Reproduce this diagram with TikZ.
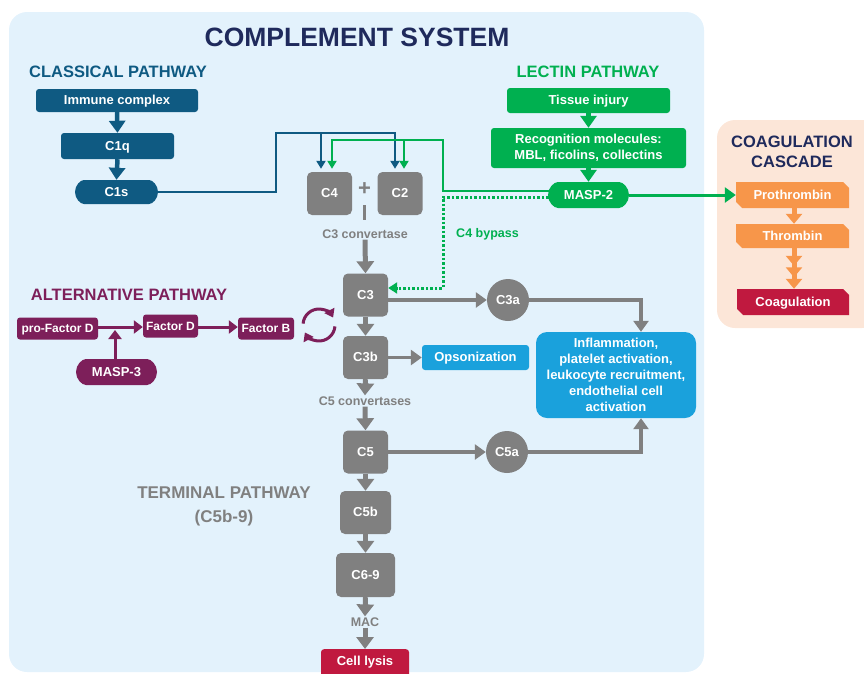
\documentclass[tikz,border=0pt]{standalone}
\usepackage{fontspec}
\setmainfont{Liberation Sans}
\usetikzlibrary{arrows.meta,shapes.misc}
\definecolor{cpblue}{HTML}{0F5A82}
\definecolor{lgreen}{HTML}{00B050}
\definecolor{apurple}{HTML}{7D1F5A}
\definecolor{ggray}{HTML}{808080}
\definecolor{lblue}{HTML}{1AA1DC}
\definecolor{crimson}{HTML}{C0193F}
\definecolor{orng}{HTML}{F7964A}
\definecolor{navy}{HTML}{1F2A5C}
\definecolor{bgblue}{HTML}{E3F2FC}
\definecolor{peach}{HTML}{FCE6D8}
\tikzset{
  bx/.style={rectangle, rounded corners=3pt, inner sep=0pt, text=white,
    font=\bfseries\fontsize{13}{15.8}\selectfont, align=center},
  sl/.style={text height=9.4pt, text depth=0.6pt},
  pill/.style={bx, sl, rounded rectangle},
  gbox/.style={bx, sl, fill=ggray, rounded corners=5pt, minimum width=45pt, minimum height=43pt},
  gcirc/.style={circle, sl, fill=ggray, inner sep=0pt, minimum size=42pt, text=white,
    font=\bfseries\fontsize{13}{15}\selectfont},
  cham/.style={chamfered rectangle, sl, chamfered rectangle corners={north east,south west},
    chamfered rectangle xsep=3pt, chamfered rectangle ysep=3pt, inner sep=0pt, text=white,
    font=\bfseries\fontsize{13}{15}\selectfont},
  hdr/.style={font=\bfseries\fontsize{16.5}{19}\selectfont, inner sep=0pt},
  glab/.style={text=ggray, font=\bfseries\fontsize{12.5}{15}\selectfont, inner sep=1pt},
  vtarr/.style={line width=4.5pt, -{Triangle[length=12pt,width=16pt]}},
  bigarr/.style={line width=5pt, -{Triangle[length=12pt,width=17pt]}},
  medarr/.style={line width=3.5pt, -{Triangle[length=11pt,width=15pt]}},
  thinarr/.style={line width=2.5pt, -{Triangle[length=8pt,width=9pt]}},
  parr/.style={apurple, line width=3pt, -{Triangle[length=9pt,width=13pt]}},
  pbox/.style={bx, sl, fill=apurple, font=\bfseries\fontsize{12}{14}\selectfont},
}
\begin{document}
\begin{tikzpicture}[x=1pt,y=-1pt]
\useasboundingbox (0,0) rectangle (864,673);
\clip (0,0) rectangle (864,673);
% panels
\fill[bgblue, rounded corners=18pt] (9,12) rectangle (704,672);
\fill[peach, rounded corners=18pt] (717,120) rectangle (880,328);
% title
\node[font=\bfseries\fontsize{26.5}{30}\selectfont, text=navy, inner sep=0pt] (title) at (357,37) {COMPLEMENT SYSTEM};
% classical
\node[hdr, text=cpblue] (clh) at (118,72) {CLASSICAL PATHWAY};
\node[bx, sl, fill=cpblue, minimum width=162pt, minimum height=23pt] (imm) at (117,100.5) {Immune complex};
\node[bx, sl, fill=cpblue, minimum width=113pt, minimum height=26pt] (c1q) at (117.5,146) {C1q};
\node[pill, fill=cpblue, minimum width=83pt, minimum height=24pt] (c1s) at (116.5,192) {C1s};
\draw[cpblue, vtarr] (imm.south) -- (c1q.north);
\draw[cpblue, vtarr] (c1q.south) -- (c1s.north);
% lectin
\node[hdr, text=lgreen] (leh) at (588,72) {LECTIN PATHWAY};
\node[bx, sl, fill=lgreen, minimum width=163pt, minimum height=25pt] (tis) at (588.5,100.5) {Tissue injury};
\node[bx, fill=lgreen, minimum width=195pt, minimum height=40pt] (rec) at (588.5,148) {Recognition molecules:\\MBL, ficolins, collectins};
\node[pill, fill=lgreen, minimum width=81pt, minimum height=26pt] (masp2) at (588.5,195) {MASP-2};
\draw[lgreen, vtarr] (tis.south) -- (rec.north);
\draw[lgreen, vtarr] (rec.south) -- (masp2.north);
% coagulation
\node[font=\bfseries\fontsize{16.5}{19.5}\selectfont, text=navy, align=center, inner sep=0pt] (coh) at (792,152) {COAGULATION\\CASCADE};
\node[cham, fill=orng, minimum width=113pt, minimum height=26pt] (pro) at (792.5,195) {Prothrombin};
\node[cham, fill=orng, minimum width=113pt, minimum height=24pt] (thr) at (792.5,236) {Thrombin};
\node[cham, fill=crimson, minimum width=112pt, minimum height=26pt] (coa) at (793,302) {Coagulation};
\draw[orng, line width=5pt, -{Triangle[length=10pt,width=16pt]}] ([xshift=1.5pt]pro.south) -- ([xshift=1.5pt]thr.north);
\draw[orng, line width=5pt, -{Triangle[length=10pt,width=16pt,sep=1.5pt] Triangle[length=10pt,width=16pt,sep=1.5pt] Triangle[length=10pt,width=16pt]}] ([xshift=1.5pt]thr.south) -- ([xshift=1pt]coa.north);
\draw[lgreen, line width=3pt, -{Triangle[length=11pt,width=15pt]}] (masp2.east) -- (pro.west);
% C4 C2
\node[gbox] (c4) at (329.5,193.5) {C4};
\node[gbox] (c2) at (400,193.5) {C2};
\node[text=ggray, font=\bfseries\fontsize{22}{22}\selectfont, inner sep=0pt] (plus) at (364.5,189) {+};
\node[glab] (c3conv) at (365,234) {C3 convertase};
\draw[ggray, line width=3.5pt] (364.5,205) -- (364.5,220);
% classical connector
\draw[cpblue, thinarr] (c1s.east) -- (276,192) -- (276,133) -- (395,133) -- ([xshift=-5pt,yshift=3pt]c2.north);
\draw[cpblue, thinarr] (321,133) -- ([xshift=-8.5pt,yshift=3pt]c4.north);
% lectin connector
\draw[lgreen, thinarr] ([yshift=4pt,xshift=1pt]masp2.west) -- (443,191) -- (443,140) -- (332,140) -- ([xshift=2.5pt,yshift=3pt]c4.north);
\draw[lgreen, thinarr] (404,140) -- ([xshift=4pt,yshift=3pt]c2.north);
% C3 etc
\node[gbox] (c3) at (365.5,295) {C3};
\node[gbox] (c3b) at (365.5,357.5) {C3b};
\node[glab] (c5conv) at (365,401) {C5 convertases};
\node[gbox] (c5) at (365.5,452) {C5};
\node[gbox, minimum width=51pt] (c5b) at (365.5,512.5) {C5b};
\node[gbox, minimum width=59pt, minimum height=44pt] (c69) at (365.5,575) {C6-9};
\node[glab] (mac) at (365,622) {MAC};
\node[bx, fill=crimson, minimum width=88pt, minimum height=30pt, anchor=north] (lys) at (365,649) {};
\node[text=white, sl, font=\bfseries\fontsize{13}{15}\selectfont, inner sep=0pt] (lyst) at (365,661) {Cell lysis};
\node[gcirc] (c3a) at (508,300) {C3a};
\node[gcirc] (c5a) at (507,452) {C5a};
\node[bx, sl, fill=lblue, minimum width=107pt, minimum height=25pt] (ops) at (475.5,357.5) {Opsonization};
\node[bx, fill=lblue, rounded corners=11pt, minimum width=160pt, minimum height=86pt, font=\bfseries\fontsize{13}{16}\selectfont] (inf) at (616,375) {Inflammation,\\platelet activation,\\leukocyte recruitment,\\endothelial cell\\activation};
\draw[ggray, bigarr] (c3conv.south) -- (c3.north);
\draw[ggray, bigarr] (c3.south) -- (c3b.north);
\draw[ggray, bigarr] (c3b.south) -- (c5conv.north);
\draw[ggray, bigarr] (c5conv.south) -- (c5.north);
\draw[ggray, bigarr] (c5.south) -- (c5b.north);
\draw[ggray, bigarr] (c5b.south) -- (c69.north);
\draw[ggray, bigarr] (c69.south) -- (mac.north);
\draw[ggray, bigarr] (mac.south) -- (lys.north);
\draw[ggray, medarr] ([yshift=-5pt]c3.east) -- (c3a.west);
\draw[ggray, medarr] (c3b.east) -- (ops.west);
\draw[ggray, medarr] (c5.east) -- (c5a.west);
\draw[ggray, medarr] (c3a.east) -- (641,300) -- ([xshift=25pt]inf.north);
\draw[ggray, medarr] (c5a.east) -- (641,452) -- ([xshift=25pt]inf.south);
% C4 bypass
\draw[lgreen, line width=3pt, dash pattern=on 2.5pt off 2pt, -{Triangle[length=9pt,width=11pt]}] ([yshift=-2pt,xshift=1pt]masp2.west) -- (443,197) -- (443,288) -- ([yshift=7pt]c3.east);
\node[text=lgreen, font=\bfseries\fontsize{12.5}{15}\selectfont, inner sep=0pt] (byp) at (487.5,234) {C4 bypass};
% terminal
\node[hdr, text=ggray, align=center, font=\bfseries\fontsize{17}{24}\selectfont] (term) at (224,506) {TERMINAL PATHWAY\\(C5b-9)};
% alternative
\node[hdr, text=apurple] (alh) at (129,295) {ALTERNATIVE PATHWAY};
\node[pbox, minimum width=81pt, minimum height=22pt] (pfd) at (57.5,328.5) {pro-Factor D};
\node[pbox, minimum width=55pt, minimum height=23pt] (fd) at (170.5,326) {Factor D};
\node[pbox, minimum width=56pt, minimum height=22pt] (fb) at (266,328.5) {Factor B};
\node[pill, fill=apurple, minimum width=81pt, minimum height=26pt] (masp3) at (116.5,372) {MASP-3};
\draw[parr] ([yshift=1.5pt]pfd.east) -- ([yshift=-1pt]fd.west);
\draw[parr] ([yshift=-1pt]fd.east) -- ([yshift=1.5pt]fb.west);
\draw[parr] ([xshift=-1.5pt]masp3.north) -- (115,330);
\draw[apurple, line width=3pt, -{Triangle[length=8pt,width=11pt]}] (319,325) ++(175:16pt) arc[start angle=175, end angle=28, radius=16pt];
\draw[apurple, line width=3pt, -{Triangle[length=8pt,width=11pt]}] (319,325) ++(-5:16pt) arc[start angle=-5, end angle=-152, radius=16pt];
\end{tikzpicture}
\end{document}
